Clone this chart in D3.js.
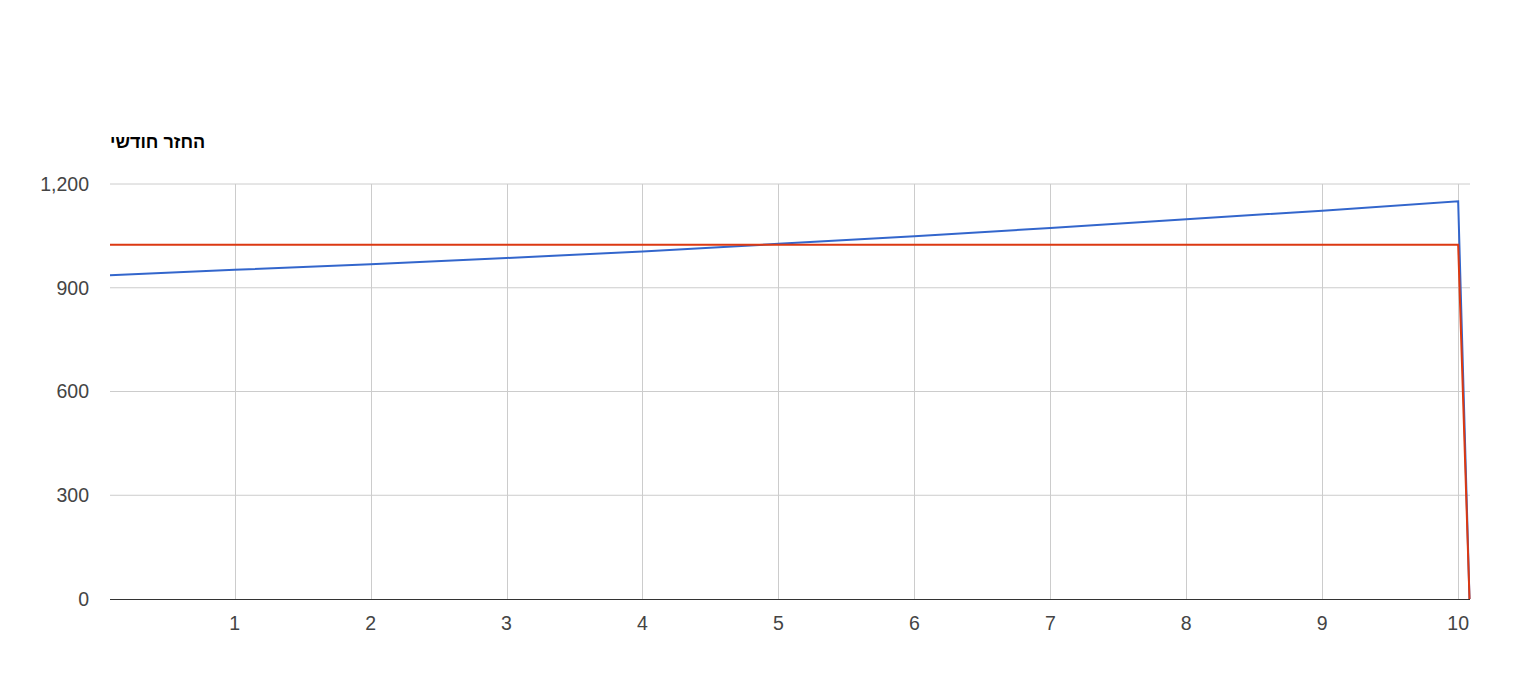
<!DOCTYPE html>
<html>
<head>
<meta charset="utf-8">
<script src="https://cdn.jsdelivr.net/npm/d3@7"></script>
<style>
  body { margin: 0; background: #fff; }
  text { font-family: "Liberation Sans", Arial, sans-serif; }
</style>
</head>
<body>
<svg width="1516" height="691"></svg>
<script>
// months since start, shown on the axis in years
let months = [1, 12, 24, 36, 48, 60, 72, 84, 96, 108, 120, 121];
let blueValues = [936, 952, 968, 986, 1005, 1027, 1049, 1073, 1098, 1123, 1150, 0];
let redValues = [1024, 1024, 1024, 1024, 1024, 1024, 1024, 1024, 1024, 1024, 1024, 0];
let xTicks = [1, 2, 3, 4, 5, 6, 7, 8, 9, 10];
let yTicks = [0, 300, 600, 900, 1200];
let title = 'החזר חודשי';

let svg = d3.select('svg');

let x = d3.scaleLinear()
    .domain([1 / 12, 121 / 12])
    .range([110, 1469.5]);

let y = d3.scaleLinear()
    .domain([0, 1200])
    .range([599, 184]);

// grid
let gGrid = svg.append('g');
gGrid.selectAll('line.h').data(yTicks.filter(d => d > 0)).enter().append('line')
    .attr('x1', 110).attr('x2', 1470)
    .attr('y1', d => y(d)).attr('y2', d => y(d))
    .attr('stroke', '#cccccc').attr('stroke-width', 1);

gGrid.selectAll('line.v').data(xTicks).enter().append('line')
    .attr('x1', d => Math.round(x(d)) + 0.5).attr('x2', d => Math.round(x(d)) + 0.5)
    .attr('y1', 184).attr('y2', 599)
    .attr('stroke', '#cccccc').attr('stroke-width', 1);

// labels
svg.append('g').selectAll('text').data(yTicks).enter().append('text')
    .attr('x', 89).attr('y', d => y(d))
    .attr('dy', '0.35em')
    .attr('text-anchor', 'end')
    .attr('font-size', 19.5)
    .attr('fill', '#444')
    .text(d3.format(','));

svg.append('g').selectAll('text').data(xTicks).enter().append('text')
    .attr('x', d => x(d)).attr('y', 630)
    .attr('text-anchor', 'middle')
    .attr('font-size', 19.5)
    .attr('fill', '#444')
    .text(d => d);

svg.append('text')
    .attr('x', 110).attr('y', 148)
    .attr('font-size', 18)
    .attr('font-weight', 'bold')
    .attr('fill', '#000')
    .text(title);

// lines
let line = d3.line()
    .x(d => x(d[0] / 12))
    .y(d => y(d[1]));

svg.append('path')
    .datum(months.map((m, i) => [m, blueValues[i]]))
    .attr('d', line)
    .attr('fill', 'none')
    .attr('stroke', '#3366cc')
    .attr('stroke-width', 2);

svg.append('path')
    .datum(months.map((m, i) => [m, redValues[i]]))
    .attr('d', line)
    .attr('fill', 'none')
    .attr('stroke', '#dc3912')
    .attr('stroke-width', 2);

// baseline
svg.append('line')
    .attr('x1', 110).attr('x2', 1470)
    .attr('y1', y(0) + 0.5).attr('y2', y(0) + 0.5)
    .attr('stroke', '#333333').attr('stroke-width', 1);
</script>
</body>
</html>
